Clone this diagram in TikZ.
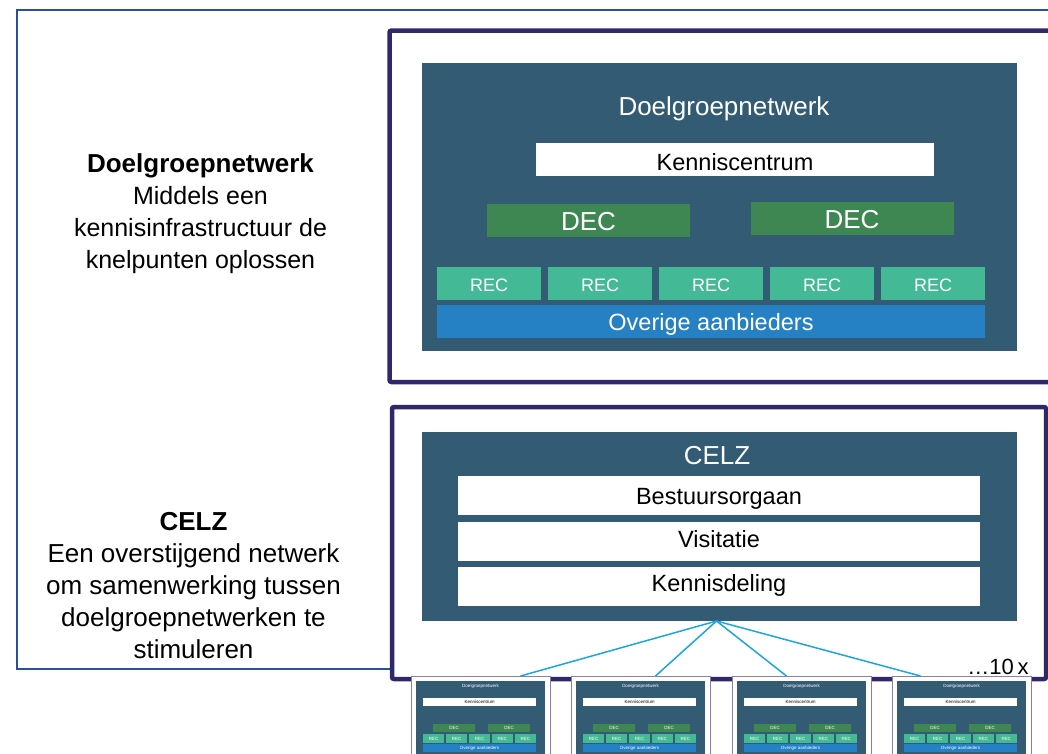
\documentclass[tikz,border=0pt]{standalone}
\usepackage{fontspec}
\setmainfont{Liberation Sans}
\usetikzlibrary{positioning}

\definecolor{leisteen}{HTML}{345B74}
\definecolor{decgroen}{HTML}{3E8752}
\definecolor{recgroen}{HTML}{43BA95}
\definecolor{overigblauw}{HTML}{2581C4}
\definecolor{kaderpaars}{HTML}{30276A}
\definecolor{kaderblauw}{HTML}{2B4E9E}
\definecolor{lijnblauw}{HTML}{1BA6E0}
\definecolor{minirand}{HTML}{8A7DB6}

\tikzset{
  blok/.style={
    % The shape:
    shape=rectangle, inner sep=0pt, outer sep=0pt,
    % The text: fixed baseline, a bit under the middle
    text height=21.8pt, text depth=0pt,
    font=\fontsize{23.5}{28}\selectfont
  },
  vlak/.style={blok, fill=leisteen, minimum width=595pt},
  titel/.style={text=white, font=\fontsize{26}{30}\selectfont},
  wit/.style={blok, fill=white, text=black},
  rij/.style={wit, minimum width=522pt, minimum height=39pt, text height=17.5pt},
  dec/.style={blok, fill=decgroen, text=white,
    font=\fontsize{26}{30}\selectfont, text height=20pt,
    minimum width=203pt, minimum height=33pt},
  rec/.style={blok, fill=recgroen, text=white,
    font=\fontsize{18}{22}\selectfont, text height=16pt,
    minimum width=104pt, minimum height=33pt},
  overig/.style={blok, fill=overigblauw, text=white, text height=18pt,
    minimum width=548pt, minimum height=33pt},
  kader/.style={draw=kaderpaars, line width=4.5pt, rounded corners=2pt, fill=white},
  uitleg/.style={align=center, font=\fontsize{26}{32}\selectfont},
  verbinding/.style={draw=lijnblauw, line width=1.5pt},
  % de kleine doelgroepnetwerken onderaan
  mini/.style={blok, fill=white, draw=minirand, line width=1pt,
    minimum width=139pt, minimum height=90pt},
  minitekst/.style={font=\fontsize{4.5}{5}\selectfont, text height=3.6pt}
}

\begin{document}
\begin{tikzpicture}[x=1pt, y=-1pt]
  \useasboundingbox (0,0) rectangle (1048,753);
  \clip (0,0) rectangle (1048,753);

  % buitenkader
  \draw[kaderblauw, line width=1.5pt] (1070,10) -| (17,669) -- (392,669);

  % uitleg links
  \node[uitleg, font=\fontsize{25}{32}\selectfont] (uitlegdgn) at (200.5,214)
    {{\fontsize{26}{32}\selectfont\textbf{Doelgroepnetwerk}}\\Middels een\\kennisinfrastructuur de\\knelpunten oplossen};
  \node[uitleg] (uitlegcelz) at (193.5,586)
    {\textbf{CELZ}\\Een overstijgend netwerk\\om samenwerking tussen\\doelgroepnetwerken te\\stimuleren};

  % doelgroepnetwerk
  \draw[kader] (389.5,30.5) rectangle (1075,382);
  \node[vlak, minimum height=288pt] (dgn) at (719.5,207) {};
  \node[titel] (dgntitel) at (724,109) {Doelgroepnetwerk};
  \node[wit, minimum width=398pt, minimum height=33pt] (kc) at (735,159.5) {Kenniscentrum};
  \node[dec] (dec1) at (588.5,220.5) {DEC};
  \node[dec] (dec2) at (852,218.5) {DEC};
  \node[rec] (rec1) at (489,283.5) {REC};
  \foreach \i [count=\j from 1] in {2,...,5}
    \node[rec, right=7pt of rec\j] (rec\i) {REC};
  \node[overig] (overig) at (711,321.5) {Overige aanbieders};

  % CELZ
  \draw[kader] (392,407) rectangle (1046,679);
  \node[vlak, minimum height=189pt] (celz) at (719.5,526.5) {};
  \node[titel] (celztitel) at (717,456) {CELZ};
  \node[rij] (bestuur) at (719,495.5) {Bestuursorgaan};
  \node[rij, text height=12pt] (visitatie) at (719,541.5) {Visitatie};
  \node[rij, text height=10pt] (kennisdeling) at (719,586.5) {Kennisdeling};

  \node[font=\fontsize{22}{26}\selectfont] (aantal) at (998,667) {\dots10\,x};

  % de tien doelgroepnetwerken
  \foreach \x [count=\i] in {411,571,732,892}{
    \node[mini, anchor=north west] (mini\i) at (\x,676) {};
    \node[blok, fill=leisteen, anchor=north west, minimum width=129pt,
      minimum height=85pt] (minivlak\i) at (\x+5,681) {};
    \node[minitekst, text=white] (minititel\i) at (\x+69.5,686) {Doelgroepnetwerk};
    \node[blok, minitekst, fill=white, minimum width=113pt, minimum height=8pt]
      (minikc\i) at (\x+68.5,702) {Kenniscentrum};
    \node[blok, minitekst, fill=decgroen, text=white, minimum width=42pt,
      minimum height=8pt] (minidec\i a) at (\x+43,728) {DEC};
    \node[blok, minitekst, fill=decgroen, text=white, minimum width=42pt,
      minimum height=8pt] (minidec\i b) at (\x+98,728) {DEC};
    \foreach \k in {0,...,4}
      \node[blok, minitekst, fill=recgroen, text=white, minimum width=21.4pt,
        minimum height=9pt] (minirec\i\k) at (\x+22.7+\k*22.9,738.5) {REC};
    \node[blok, minitekst, fill=overigblauw, text=white, minimum width=113pt,
      minimum height=8pt] (minioverig\i) at (\x+68.5,748) {Overige aanbieders};
  }

  % verbindingen
  \draw[verbinding] ([xshift=-3pt]celz.south) -- ([xshift=40pt]mini1.north);
  \draw[verbinding] ([xshift=-3pt]celz.south) -- ([xshift=15pt]mini2.north);
  \draw[verbinding] ([xshift=-3pt]celz.south) -- ([xshift=-15pt]mini3.north);
  \draw[verbinding] ([xshift=-3pt]celz.south) -- ([xshift=-41pt]mini4.north);
\end{tikzpicture}
\end{document}
